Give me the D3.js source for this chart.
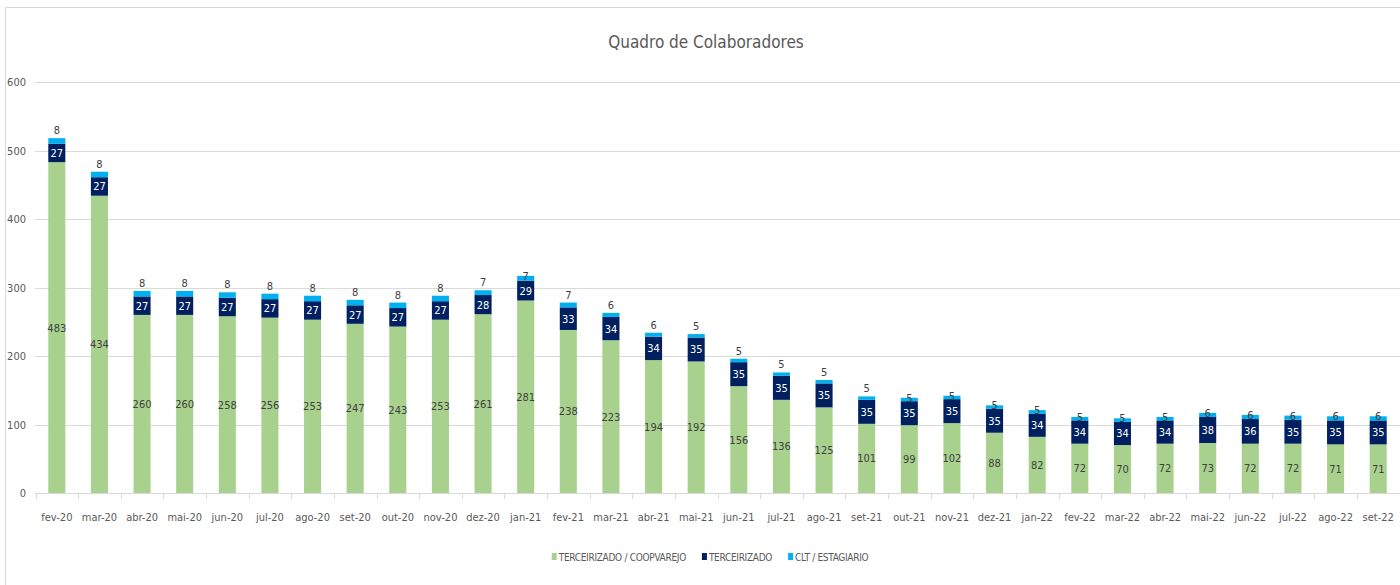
<!DOCTYPE html>
<html>
<head>
<meta charset="utf-8">
<script src="https://cdn.jsdelivr.net/npm/d3@7"></script>
<style>
  html, body { margin: 0; padding: 0; background: #fff; }
  svg { display: block; font-family: "DejaVu Sans Condensed", "Liberation Sans Narrow", "Liberation Sans", sans-serif; }
</style>
</head>
<body>
<svg id="chart" width="1400" height="585"></svg>
<script>
// Months
const months = ['fev-20','mar-20','abr-20','mai-20','jun-20','jul-20','ago-20','set-20','out-20','nov-20','dez-20',
  'jan-21','fev-21','mar-21','abr-21','mai-21','jun-21','jul-21','ago-21','set-21','out-21','nov-21','dez-21',
  'jan-22','fev-22','mar-22','abr-22','mai-22','jun-22','jul-22','ago-22','set-22'];

// Series values
const coopvarejo = [483,434,260,260,258,256,253,247,243,253,261,281,238,223,194,192,156,136,125,101,99,102,88,82,72,70,72,73,72,72,71,71];
const terceirizado = [27,27,27,27,27,27,27,27,27,27,28,29,33,34,34,35,35,35,35,35,35,35,35,34,34,34,34,38,36,35,35,35];
const clt = [8,8,8,8,8,8,8,8,8,8,7,7,7,6,6,5,5,5,5,5,5,5,5,5,5,5,5,6,6,6,6,6];

const seriesNames = ['TERCEIRIZADO / COOPVAREJO', 'TERCEIRIZADO', 'CLT / ESTAGIARIO'];
const yTicks = [0, 100, 200, 300, 400, 500, 600];

const COLORS = ['#a9d18e', '#002060', '#00b0f0'];

const svg = d3.select('#chart');

// frame
svg.append('rect')
  .attr('x', 5.5).attr('y', 7.5)
  .attr('width', 1400).attr('height', 590)
  .attr('fill', 'none')
  .attr('stroke', '#d9d9d9');

// title
svg.append('text')
  .attr('x', 706).attr('y', 48)
  .attr('text-anchor', 'middle')
  .attr('font-size', 17)
  .attr('fill', '#595959')
  .text('Quadro de Colaboradores');

const x = d3.scaleBand()
  .domain(months)
  .range([35.5, 1399.5])
  .paddingInner(0.6)
  .paddingOuter(0.3);

const y = d3.scaleLinear()
  .domain([0, 600])
  .range([493, 82]);

// gridlines
svg.append('g')
  .selectAll('line')
  .data(yTicks)
  .join('line')
    .attr('x1', 35).attr('x2', 1400)
    .attr('y1', d => Math.round(y(d)) + 0.5)
    .attr('y2', d => Math.round(y(d)) + 0.5)
    .attr('stroke', '#d9dcd6');

// y labels
svg.append('g')
  .selectAll('text')
  .data(yTicks)
  .join('text')
    .attr('x', 26)
    .attr('y', d => y(d) + 4)
    .attr('text-anchor', 'end')
    .attr('font-size', 11)
    .attr('fill', '#595959')
    .text(d => d);

// stacked data
const rows = months.map((m, i) => ({
  month: m,
  coop: coopvarejo[i],
  terc: terceirizado[i],
  clt: clt[i]
}));
const stack = d3.stack().keys(['coop', 'terc', 'clt'])(rows);

const layers = svg.append('g')
  .selectAll('g')
  .data(stack)
  .join('g')
    .attr('fill', (d, i) => COLORS[i]);

layers.selectAll('rect')
  .data(d => d)
  .join('rect')
    .attr('x', d => x(d.data.month))
    .attr('width', x.bandwidth())
    .attr('y', d => y(d[1]))
    .attr('height', d => y(d[0]) - y(d[1]));

// x axis line + ticks
const step = x.step();
const x0 = x.range()[0];
svg.append('line')
  .attr('x1', 35).attr('x2', 1400)
  .attr('y1', 493.5).attr('y2', 493.5)
  .attr('stroke', '#d9d9d9');

svg.append('g')
  .selectAll('line')
  .data(d3.range(months.length + 1))
  .join('line')
    .attr('x1', i => Math.round(x0 + i * step) + 0.5)
    .attr('x2', i => Math.round(x0 + i * step) + 0.5)
    .attr('y1', 493).attr('y2', 499)
    .attr('stroke', '#d9d9d9');

svg.append('g')
  .selectAll('text')
  .data(months)
  .join('text')
    .attr('x', d => x(d) + x.bandwidth() / 2)
    .attr('y', 521)
    .attr('text-anchor', 'middle')
    .attr('font-size', 11)
    .attr('fill', '#595959')
    .text(d => d);

// data labels
const lbl = svg.append('g').attr('font-size', 11).attr('text-anchor', 'middle');

lbl.selectAll('text.coop')
  .data(stack[0])
  .join('text')
    .attr('class', 'coop')
    .attr('x', d => x(d.data.month) + x.bandwidth() / 2)
    .attr('y', d => (y(d[0]) + y(d[1])) / 2 + 4)
    .attr('fill', '#404040')
    .text(d => d.data.coop);

lbl.selectAll('text.terc')
  .data(stack[1])
  .join('text')
    .attr('class', 'terc')
    .attr('x', d => x(d.data.month) + x.bandwidth() / 2)
    .attr('y', d => (y(d[0]) + y(d[1])) / 2 + 4)
    .attr('fill', '#ffffff')
    .text(d => d.data.terc);

// top labels sit above the bar, except where excel squeezed them onto it
const onBar = new Set(['jan-21','out-21','nov-21','dez-21','jan-22','fev-22','mar-22','abr-22','mai-22','jun-22','jul-22','ago-22','set-22']);
lbl.selectAll('text.clt')
  .data(stack[2])
  .join('text')
    .attr('class', 'clt')
    .attr('x', d => x(d.data.month) + x.bandwidth() / 2)
    .attr('y', d => onBar.has(d.data.month) ? y(d[1]) + 4 : y(d[1]) - 4)
    .attr('fill', '#404040')
    .text(d => d.data.clt);

// legend, laid out from measured text widths and centred
const legend = svg.append('g');
const items = legend.selectAll('g')
  .data(seriesNames)
  .join('g');

items.append('rect')
  .attr('x', 0).attr('y', -4)
  .attr('width', 5).attr('height', 7)
  .attr('fill', (d, i) => COLORS[i]);

items.append('text')
  .attr('x', 7).attr('y', 4)
  .attr('font-size', 10)
  .attr('letter-spacing', -0.3)
  .attr('fill', '#595959')
  .text(d => d);

let cursor = 0;
items.each(function() {
  const w = d3.select(this).select('text').node().getComputedTextLength() + 7;
  d3.select(this).attr('transform', 'translate(' + cursor + ',0)');
  cursor += w + 16;
});
const total = cursor - 16;
legend.attr('transform', 'translate(' + (710 - total / 2) + ',557)');
</script>
</body>
</html>
